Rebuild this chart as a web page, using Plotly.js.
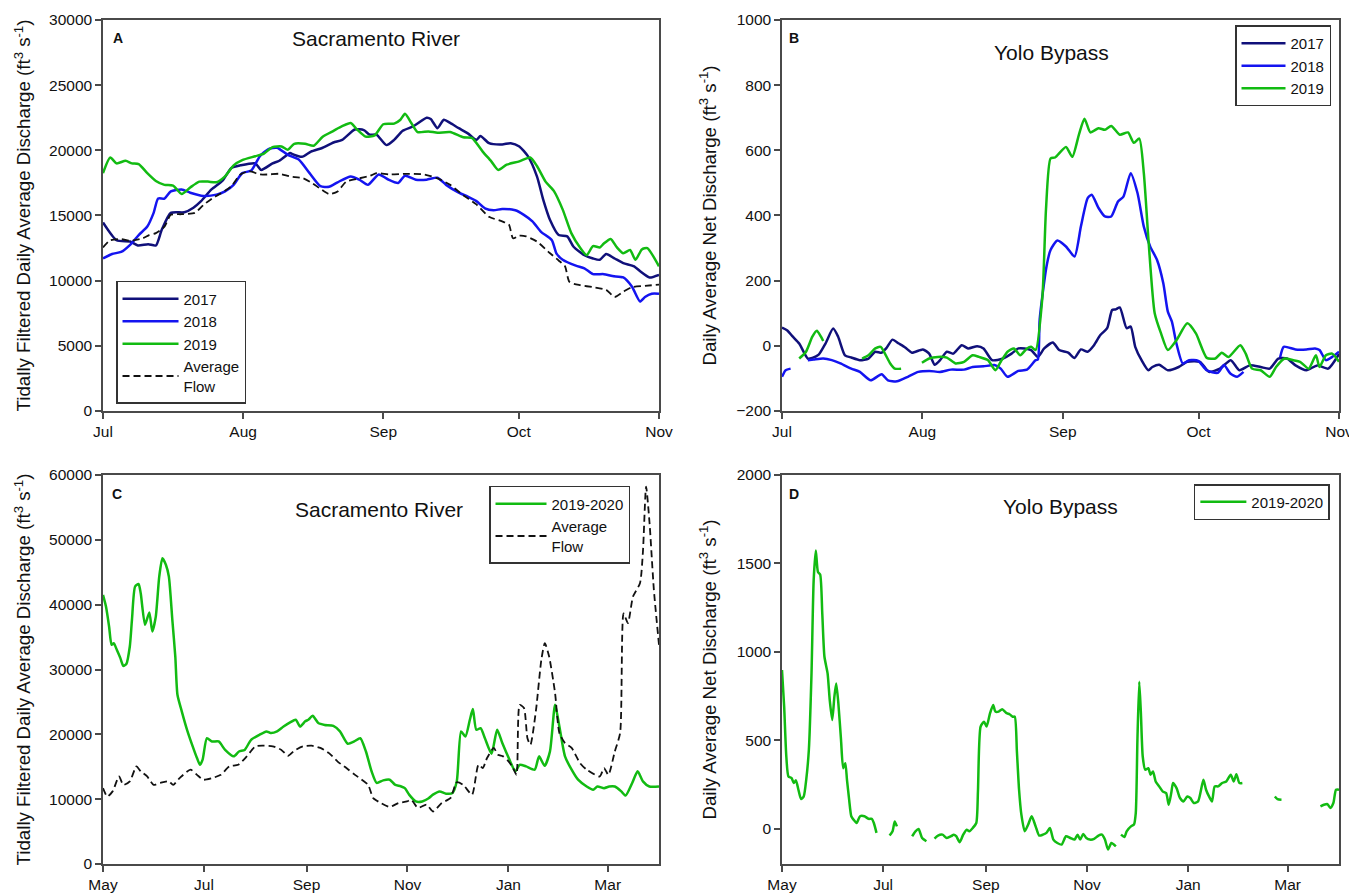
<!DOCTYPE html>
<html><head><meta charset="utf-8">
<script src="https://cdn.plot.ly/plotly-3.0.1.min.js"></script>
<style>html,body{margin:0;padding:0;background:#fff}#chart{width:1349px;height:894px}</style>
</head><body><div id="chart"></div><script>
// ---------------- Panel A: Sacramento River, Jul-Nov (days after Jul 1) ----------------
const A2017_day = [0,3,6,7.7,10,11.7,13,15,18,20,21.7,24,26.5,28.4,30.4,33.7,35,37.5,39,41.4,42,44,46,48.6,51,52.9,55.7,57.7,59,60.5,62.7,64.4,66.3,68.7,71.6,72.5,74,75.4,76.8,78.7,80.7,82.6,83.5,85.4,88.3,90.2,92.1,94,96,97.4,98.9,100.8,102.7,104.1,106.5,108.4,109.9,111.3,113.2,115.1,117.5,118.9,120.9,123];
const A2017_val = [14460,13100,13000,12700,12800,12700,13900,15200,15250,15600,16100,17000,17700,18650,18850,19000,18500,19000,19200,19800,19700,19500,19900,20200,20600,20800,21600,21550,21200,21200,20400,20800,21500,21850,22500,22400,21700,22350,22100,21700,21300,20800,21100,20550,20450,20550,20300,19550,18000,16200,14650,13500,13400,12600,11950,11700,11600,12050,11700,11350,11100,10700,10250,10450];
const A2018_day = [0,2,4,6,7.9,9.8,11.2,12.2,13.6,15,17.4,19.3,22.2,25.1,27,28.9,30.8,32.8,34.7,36.6,38.5,40.9,43.3,45.7,48.1,50,51.9,54.8,56.7,58.6,61,62.9,65.3,66.8,69.2,71.6,74,75.9,78.7,80.7,82.6,84.5,86.4,88.3,91.2,93.1,95,96.9,99.3,100.3,101.7,104.6,106.5,108.4,110.8,112.7,115.1,117,118.8,119.9,121.4,123];
const A2018_val = [11700,12050,12200,12750,13500,14150,15200,16300,16300,16850,17000,16750,16500,16600,16850,17350,18250,18450,19550,20100,20200,19650,19300,18250,17250,17200,17550,18000,17750,17350,18150,17800,17500,18050,17750,17750,17900,17350,16750,16450,16100,15550,15400,15500,15400,15050,14550,13750,13100,12100,11600,11150,10950,10500,10500,10350,10250,9550,8400,8750,9000,9000];
const A2019_day = [0,1.6,3,5,6.4,7.9,9.8,11.7,13.6,15.5,17.4,19.3,21.3,23.2,25.1,27,28.9,30.8,33.7,35.6,37.5,39.5,40.9,42.3,44.7,46.6,48.6,51,52.9,54.8,56.2,58.1,60.1,62,64.4,65.8,66.8,68.2,69.6,72,74,76.8,79.7,81.6,84,85.9,87.4,89.3,92.1,94.5,96,97.9,99.8,101.7,103.6,105.6,107,108.4,109.9,110.8,112.3,113.7,115.1,116.6,117.8,119.2,120.4,123];
const A2019_val = [18250,19450,19000,19200,19000,18950,18250,17650,17350,17300,16650,17150,17600,17600,17550,18000,18850,19250,19550,19750,20250,20300,20050,20500,20500,20350,21050,21500,21850,22100,21600,21050,21150,22000,22050,22350,22800,22100,21400,21450,21350,21400,21000,20950,19900,19150,18500,18900,19150,19450,18800,17600,16850,15450,13650,12500,11950,12650,12550,12850,13200,12550,12100,12350,11600,12400,12500,11100];
const Aavg_day = [0,1.6,4,6,8.8,10.2,11.7,13.6,15,17.4,20.3,22.2,24.1,26.1,28.4,30.4,32.3,34.7,36.6,39,41.4,44.3,46.2,48.1,50,51.9,53.8,56.7,59.1,60.5,63.4,67.2,71.1,74,76.8,79.7,82.6,85.4,88.3,89.8,90.7,92.1,93.6,96,98.9,100.8,102.2,103.2,105.6,108.4,111.3,113.2,115.1,117,119.9,123];
const Aavg_val = [12550,13100,13200,13050,13250,13500,13650,14150,15050,15100,15200,15800,16300,16700,17250,18150,18400,18150,18150,18200,18000,17850,17500,17050,16650,16850,17600,17850,18050,18250,18150,18200,18150,17850,17350,16550,15850,14900,14550,14300,13250,13450,13400,13000,12100,11550,11100,9900,9650,9500,9300,8750,9150,9500,9600,9700];

// ---------------- Panel B: Yolo Bypass, Jul-Nov (days after Jul 1) ----------------
const B2017_day = [0,1.1,2.4,3.8,5.7,6.7,8.1,9.6,11.3,12.4,13.9,15.3,17.2,19.1,20.6,22,23,24.4,25.8,27.2,28.7,31.1,32.5,33.7,34.9,36.4,37.8,39.7,41.1,43.1,44.5,46.4,48.8,50.7,52.2,53.6,55,56.5,57.9,59.8,61.2,63.2,64.6,66,67.5,68.9,70.3,71.8,72.9,73.7,74.6,76.1,77,78,79.4,80.9,81.8,83.3,85.2,87.6,89.5,92.3,94.3,96.7,99.1,101,103.3,105.7,107.7,109.6,111.5,113.4,115.8,118.2,120.6,123];
const B2017_val = [56,48,28,7,-39,-37,-27,7,53,28,-29,-36,-44,-39,-18,-21,-8,19,7,-5,-21,-11,-24,-58,-44,-18,-24,2,-8,-1,-8,-44,-39,-24,-8,-8,-13,-34,-8,10,-13,-21,-37,-11,-18,2,33,54,110,112,118,54,59,-3,-44,-75,-65,-58,-75,-65,-49,-49,-80,-70,-44,-75,-60,-65,-70,-39,-39,-60,-75,-60,-70,-25];
const B2018_day = [0,0.8,1.9,3.8,5.7,7,9.1,11,12.9,15.3,17.2,19.6,22,23.4,25.4,27.8,30.1,32.5,34.9,37.3,40.2,42.1,44.5,46.9,48.3,49.8,52.2,54.1,56,56.5,56.9,58.4,59.3,60.8,62.7,64.6,66,67.5,68.4,69.9,71.3,72.7,74.2,75.4,77,78.5,79.9,81.3,82.8,84.2,85.2,86.1,87.1,88.5,89.9,91.9,93.8,96.2,97.6,99,100.5,101.9,106,110,110.8,113.4,115.8,117.7,118.7,120.1,121.5,123];
const B2018_val = [-95,-75,-70,null,-44,-42,-39,-44,-54,-70,-80,-106,-87,-106,-109,-95,-80,-77,-80,-73,-73,-65,-63,-59,-70,-95,-77,-73,-44,-42,81,243,294,323,305,274,366,453,464,423,397,397,443,458,530,469,366,305,264,192,105,74,7,-54,-44,-46,-75,-83,-59,-85,-95,-80,null,-35,-3,-11,-11,-8,-13,-44,-34,-18];
const B2019_day = [3.8,5.3,6.7,7.7,8.6,9.1,13,17.7,19.1,20.6,21.8,22.5,23.9,24.9,26.3,28.5,30.9,32.5,34.4,36.4,38.3,40.2,42.1,43.5,45.5,47.1,48.3,49.8,51.2,52.6,54.1,55,56,57.5,58.3,59.3,60.3,62.7,64.1,65.6,66.8,68.1,69.9,71.3,72.7,74.6,76.4,77.7,78.9,79.9,80.9,82.3,83.7,85.2,87.1,89.5,91.4,93.8,95.7,97.1,98.6,101.2,102.4,103.8,105.7,107.7,109.1,111,112.9,114.4,116.3,117.9,118.7,120.1,121.5,123];
const B2019_val = [-39,-18,28,46,28,15,null,-39,-29,-8,-3,-18,-54,-70,-70,null,-52,-39,-34,-36,-54,-49,-29,-34,-44,-75,-49,-18,-8,-29,-8,-3,-13,150,420,575,578,610,580,650,697,655,668,663,675,648,655,623,636,530,330,100,38,-13,17,69,38,-37,-39,-21,-34,2,-24,-70,-75,-95,-65,-39,-44,-49,-70,-29,-65,-29,-24,-49];

// ---------------- Panel C: Sacramento River, May 2019 - Apr 2020 (days after May 1) ----------------
const C1920_day = [0,1.8,3.7,5.2,6.5,8.4,10.5,12.3,14.1,16.2,17.5,19.4,21.5,22.8,25.4,28,29.8,31.9,34,35.9,38,39.8,41.9,43.7,45,47.6,50.8,54.2,56.8,58.6,60.2,62.8,65.9,69.9,73.8,79,82.2,85.6,89.5,94.7,98.7,101.3,105.2,109.1,113.1,116.5,119.1,122.2,124.1,126.7,130.1,134,139.2,143.2,147.9,151.8,155.5,158.9,162.3,165.4,169.3,173.3,176.4,179.8,182.4,185,189,192.9,196.8,199.4,203.4,207.3,211.2,213.8,216.4,219,221.7,223.5,225.6,228.2,230.8,234.8,238.2,241.3,245.2,249.2,251.8,255.7,260.9,263.5,266.9,270.1,273.2,275.8,279.2,283.2,287.1,292.3,296.2,298.8,302.8,305.9,309.3,313.2,315.8,319.8,323.1,326.3,330.2,336];
const C1920_val = [41500,39700,36600,33800,34050,33000,31750,30550,30850,33550,37650,42800,43200,41750,36900,38800,35850,38150,44350,47150,46150,44350,37650,32000,26100,23550,20700,18150,16350,15300,16100,19400,18900,18900,17600,16600,17350,17600,19150,19950,20450,20200,20450,21200,21850,22250,21200,22000,22250,22850,21750,21450,21300,20450,18550,18900,19400,17350,14300,12500,12900,13000,12250,12000,11700,10700,9650,9650,10150,10700,11200,10850,10950,12750,20450,19650,22250,23900,20700,20950,19400,17000,20700,18650,16350,14300,15300,15050,14550,16600,15150,17350,24550,21200,16600,14550,13000,11950,11450,11950,11700,11950,11950,11200,10550,12500,14300,12750,11950,11950];
const Cavg_day = [0,2.6,5.8,9.7,12.3,16.2,20.2,22.8,26.7,30.6,34.5,39.8,42.4,46.3,52.9,56.8,60.7,65.9,71.2,76.4,81.7,86.9,92.1,97.4,102.6,107.8,111.8,115.7,120.9,126.1,131.4,136.6,141.8,147.1,152.3,160.2,163.3,168,173.3,178.5,183.7,186.3,190.3,195.5,199.4,204.7,209.9,213.8,217.7,223,226.9,229.5,232.1,236.1,238.7,241.8,245.2,247.8,249.9,251.8,254.4,256.5,258.3,261.7,264.9,267,269.6,273.2,275.8,279.2,283.2,288.3,292.3,300.2,302.8,305.4,309.3,312.5,314.6,317.2,320.3,324.5,326.3,328.2,330.3,332.9,336];
const Cavg_val = [11700,10400,11200,13500,12200,12750,15050,14300,13500,12200,12500,12750,12200,13250,14550,13750,13000,13250,13750,15050,15300,16600,18150,18250,18150,17600,16700,17500,18150,18250,17900,17100,15800,14800,13750,12200,10150,9400,8800,9400,9650,9900,8650,9150,8100,9400,10150,12600,12200,10700,15300,14800,16350,17900,16850,16600,15800,14800,13750,24550,24050,19400,18400,23800,31500,34050,32000,26350,20200,18650,17900,15550,14550,13500,14800,13750,17350,20200,38650,37150,41250,43300,48200,58200,52550,42300,33800];

// ---------------- Panel D: Yolo Bypass, May 2019 - Apr 2020 (days after May 1) ----------------
const D1920_day = [0,1.3,2.6,3.9,5.8,7.1,8.4,9.9,11.5,13.1,14.6,16.2,17.8,19.1,20.4,21.7,23,24.3,25.6,27.5,28.8,30.3,31.6,32.7,34,35.6,36.9,38.2,39.2,40.5,41.8,43.1,45,47.1,49.7,52.3,54.1,55.4,57,61,64.9,66.7,68,69.3,74,78.5,80.5,82.4,84.5,87.1,89.5,92,94.1,96.8,99.4,102,103.6,105.1,107.2,109.3,111.4,113,115.1,117.2,118.2,119.8,121.9,123.4,125.5,127.4,128.7,130.7,132.8,135.5,137.3,139.1,140.4,141.7,143,144.4,146.4,148.5,150.6,153,155.1,157.4,159.5,161.6,163.7,166.1,168.7,171.3,173.9,176.5,178.3,179.9,181.7,183.6,185.7,188.3,190.9,193,194.8,196.7,198.7,201.4,203,204.5,206.6,207.9,210.5,212.3,213.4,214.4,215.5,216.5,217.6,219.1,221,222.3,223.8,225.4,227.5,229.6,231.7,233.3,234.8,235.9,238,240.1,242.2,244.5,246.3,248.4,251,254.2,255.8,257.6,259.4,261,263.1,265.5,268,270.7,272.5,274.1,275.9,277.7,290,297.3,298.9,301.3,315,324.8,326.9,329,330.8,332.6,334.2,336];
const D1920_val = [897,690,408,295,286,258,273,220,167,182,276,446,878,1404,1573,1451,1438,1216,972,878,727,615,746,821,709,502,342,370,276,164,70,51,32,70,70,55,56,32,-24,null,-39,-15,41,13,null,-43,-15,-2,-53,-71,null,-56,-39,-34,-53,-43,-34,-43,-77,-34,-6,-15,4,32,211,577,605,577,653,699,662,662,675,653,647,633,633,436,220,79,-15,23,70,13,-39,-34,-24,4,-62,-81,-90,-43,-53,-62,-34,-62,-30,-53,-62,-58,-39,-34,-62,-118,-81,-100,null,-34,-47,-15,13,23,88,502,831,652,408,333,342,305,323,267,239,211,201,135,201,258,229,173,154,182,173,145,154,276,220,182,154,239,239,258,267,305,267,308,258,258,null,182,167,164,null,126,135,139,117,145,220,220];

const DAY = 86400000;
const JUL1 = Date.UTC(2019, 6, 1);
const MAY1 = Date.UTC(2019, 4, 1);
const toDates = (base, days) => days.map(d => base + d * DAY);

const NAVY = '#10107a', BLUE = '#1414f0', GREEN = '#12bb12', BLACK = '#111111';
const FONT = 'Liberation Sans, Arial, Helvetica, sans-serif';

function line(x, y, name, color, xa, ya, legend, dash) {
  return {
    type: 'scatter', mode: 'lines', x: x, y: y, name: name,
    xaxis: xa, yaxis: ya, legend: legend, connectgaps: false,
    line: {color: color, width: dash ? 1.8 : 2.5, dash: dash || 'solid', shape: 'spline', smoothing: 0.6},
    hoverinfo: 'x+y'
  };
}

const traces = [
  line(toDates(JUL1, A2017_day), A2017_val, '2017', NAVY, 'x', 'y', 'legend'),
  line(toDates(JUL1, A2018_day), A2018_val, '2018', BLUE, 'x', 'y', 'legend'),
  line(toDates(JUL1, A2019_day), A2019_val, '2019', GREEN, 'x', 'y', 'legend'),
  line(toDates(JUL1, Aavg_day), Aavg_val, 'Average<br>Flow', BLACK, 'x', 'y', 'legend', '7px,4px'),
  line(toDates(JUL1, B2017_day), B2017_val, '2017', NAVY, 'x2', 'y2', 'legend2'),
  line(toDates(JUL1, B2018_day), B2018_val, '2018', BLUE, 'x2', 'y2', 'legend2'),
  line(toDates(JUL1, B2019_day), B2019_val, '2019', GREEN, 'x2', 'y2', 'legend2'),
  line(toDates(MAY1, C1920_day), C1920_val, '2019-2020', GREEN, 'x3', 'y3', 'legend3'),
  line(toDates(MAY1, Cavg_day), Cavg_val, 'Average<br>Flow', BLACK, 'x3', 'y3', 'legend3', '7px,4px'),
  line(toDates(MAY1, D1920_day), D1920_val, '2019-2020', GREEN, 'x4', 'y4', 'legend4')
];

const AX = {
  showline: true, mirror: true, linecolor: '#4a4a4a', linewidth: 1.5,
  ticks: 'outside', ticklen: 6, tickwidth: 1.5, tickcolor: '#4a4a4a',
  showgrid: false, zeroline: false, fixedrange: true,
  tickfont: {family: FONT, size: 15.5, color: '#111'}
};
const LX = [0.07635, 0.48851], RX = [0.57969, 0.99259];
const TY = [0.54027, 0.97763], BY = [0.03356, 0.46868];
const ytitleA = 'Tidally Filtered Daily Average Discharge (ft<sup>3</sup> s<sup>-1</sup>)';
const ytitleB = 'Daily Average Net Discharge (ft<sup>3</sup> s<sup>-1</sup>)';
const TF = {family: FONT, size: 18.7, color: '#111'};

function xax(domain, anchor, r0, r1, dt) {
  return Object.assign({}, AX, {domain: domain, anchor: anchor, type: 'date',
    range: [r0, r1], tick0: r0, dtick: dt, tickformat: '%b', ticklabeloverflow: 'allow'});
}
function yax(domain, anchor, range, dt, title, standoff) {
  return Object.assign({}, AX, {domain: domain, anchor: anchor, range: range, dtick: dt,
    tickformat: 'd', title: {text: title, font: TF, standoff: standoff}});
}
function leg(x, y, iw) {
  return {x: x, y: y, xanchor: 'left', yanchor: 'top', bordercolor: '#333', borderwidth: 1.5,
    bgcolor: 'rgba(255,255,255,0)', font: {family: FONT, size: 15, color: '#111'},
    tracegroupgap: 0, itemwidth: iw, itemclick: false, itemdoubleclick: false};
}
function ann(text, x, y, size, bold) {
  return {text: bold ? '<b>' + text + '</b>' : text, x: x, y: y, xref: 'paper', yref: 'paper',
    xanchor: 'center', yanchor: 'middle', showarrow: false,
    font: {family: FONT, size: size, color: '#111'}};
}

const layout = {
  width: 1349, height: 894, margin: {l: 0, r: 0, t: 0, b: 0},
  paper_bgcolor: '#fff', plot_bgcolor: '#fff', font: {family: FONT, color: '#111'},
  hovermode: 'closest',
  xaxis: xax(LX, 'y', '2019-07-01', '2019-11-01', 'M1'),
  yaxis: yax(TY, 'x', [0, 30000], 5000, ytitleA, 13),
  xaxis2: xax(RX, 'y2', '2019-07-01', '2019-11-01', 'M1'),
  yaxis2: yax(TY, 'x2', [-200, 1000], 200, ytitleB, 15),
  xaxis3: xax(LX, 'y3', '2019-05-01', '2020-04-01', 'M2'),
  yaxis3: yax(BY, 'x3', [0, 60000], 10000, ytitleA, 13),
  xaxis4: xax(RX, 'y4', '2019-05-01', '2020-04-01', 'M2'),
  yaxis4: yax(BY, 'x4', [-200, 2000], 500, ytitleB, 15),
  legend: leg(0.086, 0.6857, 56),
  legend2: leg(0.9155, 0.9715, 44),
  legend3: leg(0.3625, 0.4564, 51),
  legend4: leg(0.885, 0.4586, 46),
  annotations: [
    ann('Sacramento River', 0.2787, 0.9564, 21),
    ann('Yolo Bypass', 0.7791, 0.9418, 21),
    ann('Sacramento River', 0.2810, 0.4306, 21),
    ann('Yolo Bypass', 0.7865, 0.4340, 21),
    ann('A', 0.0875, 0.9575, 14, true),
    ann('B', 0.5886, 0.9575, 14, true),
    ann('C', 0.0871, 0.4474, 14, true),
    ann('D', 0.5886, 0.4474, 14, true)
  ]
};
layout.yaxis4.tickvals = [0, 500, 1000, 1500, 2000];

Plotly.newPlot('chart', traces, layout, {displayModeBar: false, responsive: false, staticPlot: false});
</script></body></html>
